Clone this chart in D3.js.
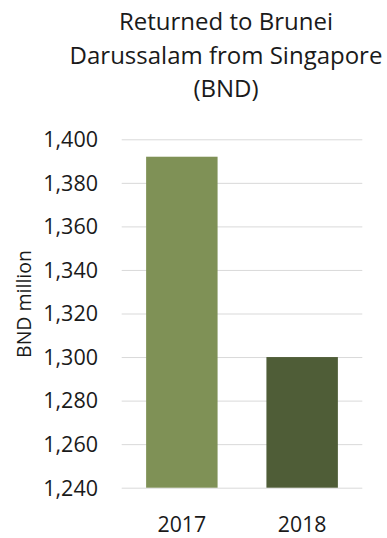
<!DOCTYPE html>
<html>
<head>
<meta charset="utf-8">
<script src="https://cdn.jsdelivr.net/npm/d3@7"></script>
<style>
  html, body { margin: 0; padding: 0; background: #fff; }
  svg { display: block; }
  text { font-family: "Open Sans", "Noto Sans", sans-serif; fill: #1a1a1a; }
</style>
</head>
<body>
<div id="chart"></div>
<script>
// Funds returned to Brunei Darussalam from Singapore, BND million
const years = ["2017", "2018"];
const values = [1392, 1300];
const barColors = ["#7f9156", "#4f5d37"];
const tickValues = [1240, 1260, 1280, 1300, 1320, 1340, 1360, 1380, 1400];
const titleLines = ["Returned to Brunei", "Darussalam from Singapore", "(BND)"];
const yAxisTitle = "BND million";

const W = 387, H = 538;
const plot = { left: 121.7, right: 362.3, top: 139.3, bottom: 487.7 };
const fontStack = "'Open Sans', 'Noto Sans', sans-serif";

const svg = d3.select("#chart").append("svg")
  .attr("width", W).attr("height", H);

const x = d3.scaleBand()
  .domain(years)
  .range([plot.left, plot.right])
  .paddingInner(0.406)
  .paddingOuter(0.203);

const y = d3.scaleLinear()
  .domain([1240, 1400])
  .range([plot.bottom, plot.top]);

// Title
svg.append("g").selectAll("text")
  .data(titleLines)
  .join("text")
  .attr("x", 226)
  .attr("y", (d, i) => 30 + i * 33.5)
  .attr("text-anchor", "middle")
  .attr("font-size", 24)
  .text(d => d);

// Gridlines and value labels
const yAxis = d3.axisLeft(y)
  .tickValues(tickValues)
  .tickSize(-(plot.right - plot.left))
  .tickPadding(23.7)
  .tickFormat(d3.format(","));

const gy = svg.append("g")
  .attr("transform", `translate(${plot.left},0)`)
  .call(yAxis);
gy.select(".domain").remove();
gy.selectAll(".tick line").attr("stroke", "#d9d9d9").attr("stroke-width", 1);
gy.selectAll(".tick text")
  .attr("font-size", 21.5)
  .attr("dy", "0.34em")
  .attr("fill", "#1a1a1a")
  .attr("font-family", fontStack);

// Bars
svg.append("g").selectAll("rect")
  .data(years.map((yr, i) => ({ yr, v: values[i], c: barColors[i] })))
  .join("rect")
  .attr("x", d => x(d.yr))
  .attr("width", x.bandwidth())
  .attr("y", d => y(d.v))
  .attr("height", d => y(1240) - y(d.v))
  .attr("fill", d => d.c);

// Category labels
const xAxis = d3.axisBottom(x).tickSize(0).tickPadding(28.7);
const gx = svg.append("g")
  .attr("transform", `translate(0,${plot.bottom})`)
  .call(xAxis);
gx.select(".domain").remove();
gx.selectAll(".tick text")
  .attr("font-size", 21.3)
  .attr("fill", "#1a1a1a")
  .attr("font-family", fontStack);

// Axis title
svg.append("text")
  .attr("transform", `translate(31,304) rotate(-90)`)
  .attr("text-anchor", "middle")
  .attr("font-size", 19.5)
  .text(yAxisTitle);
</script>
</body>
</html>
